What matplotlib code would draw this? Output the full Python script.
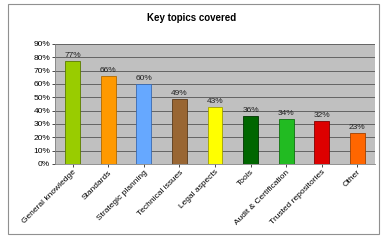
import matplotlib
matplotlib.use("Agg")
import matplotlib.pyplot as plt
from matplotlib.patches import Rectangle
from matplotlib.ticker import FuncFormatter, MultipleLocator

plt.rcParams["font.family"] = ["Liberation Sans", "DejaVu Sans"]

categories = ["General knowledge", "Standards", "Strategic planning", "Technical issues",
              "Legal aspects", "Tools", "Audit & Certification", "Trusted repositories", "Other"]
values = [77, 66, 60, 49, 43, 36, 34, 32, 23]
colors = ["#99CC00", "#FF9900", "#66A8FF", "#996633", "#FFFF00", "#006600", "#22BB22", "#DD0000", "#FF6600"]
edges = ["#5A7A00", "#B06A00", "#3A6AB0", "#5A3A1A", "#A0A000", "#003300", "#107010", "#800000", "#A04000"]

fig = plt.figure(figsize=(3.85, 2.4), dpi=100)
fig.patch.set_facecolor("white")
fig.add_artist(Rectangle((8/385, 1-234/240), 371/385, 230/240, transform=fig.transFigure,
                         fill=False, edgecolor="#909090", linewidth=0.8))

ax = fig.add_axes([55/385, 1-164/240, 320/385, 120/240])
ax.set_facecolor("#C0C0C0")
x = range(len(categories))
ax.bar(x, values, width=0.42, color=colors, edgecolor=edges, linewidth=0.6, zorder=3)
for xi, v in zip(x, values):
    ax.text(xi, v + 1.5, f"{v}%", ha="center", va="bottom", fontsize=6, color="#222222", zorder=4)

ax.set_ylim(0, 90)
ax.set_xlim(-0.5, len(categories) - 0.5)
ax.yaxis.set_major_locator(MultipleLocator(10))
ax.yaxis.set_major_formatter(FuncFormatter(lambda v, p: f"{int(v)}%"))
ax.grid(axis="y", color="#404040", linewidth=0.5, zorder=1)
ax.set_xticks(list(x))
ax.set_xticklabels(categories, rotation=45, ha="right", rotation_mode="anchor", fontsize=6)
ax.tick_params(axis="y", labelsize=6, length=2, width=0.5, pad=1.5)
ax.tick_params(axis="x", length=2, width=0.5, pad=1.5)
for s in ["top", "right"]:
    ax.spines[s].set_visible(False)
ax.spines["left"].set_color("#808080")
ax.spines["bottom"].set_color("#808080")
ax.spines["left"].set_linewidth(0.6)
ax.spines["bottom"].set_linewidth(0.6)

fig.text(192/385, 1-18/240, "Key topics covered", ha="center", va="center",
         fontsize=7, fontweight="bold")

fig.savefig("out.png", dpi=100)
